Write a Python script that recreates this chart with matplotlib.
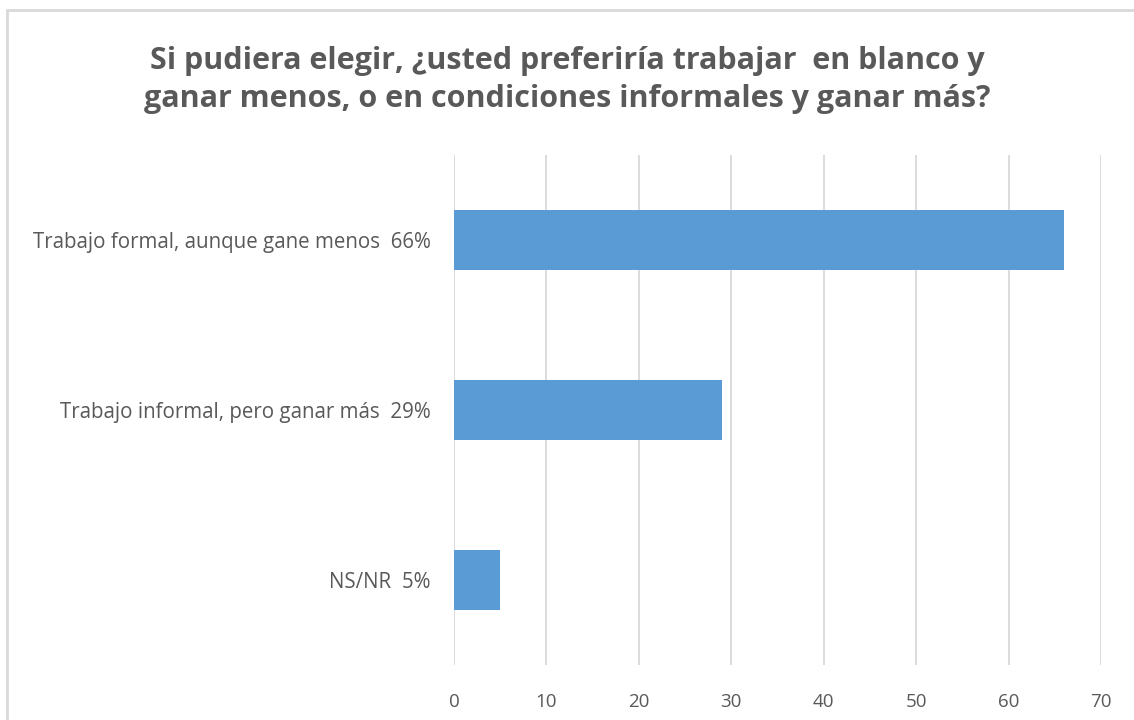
import matplotlib.pyplot as plt
from matplotlib.patches import Rectangle

categories = [
    "Trabajo formal, aunque gane menos  66%",
    "Trabajo informal, pero ganar más  29%",
    "NS/NR  5%",
]
values = [66, 29, 5]
x_ticks = [0, 10, 20, 30, 40, 50, 60, 70]

title = ("Si pudiera elegir, ¿usted preferiría trabajar  en blanco y\n"
         "ganar menos, o en condiciones informales y ganar más?")

text_color = "#595959"
grid_color = "#D9D9D9"
bar_color = "#5B9BD5"

plt.rcParams['font.family'] = ['Open Sans', 'DejaVu Sans']

fig = plt.figure(figsize=(11.34, 7.2), dpi=100)
ax = fig.add_axes([454 / 1134, 1 - 665 / 720, (1101 - 454) / 1134, (665 - 155) / 720])

y_pos = list(range(len(categories)))
ax.barh(y_pos, values, height=0.35, color=bar_color, zorder=3)
ax.set_ylim(len(categories) - 0.5, -0.5)
ax.set_xlim(0, 70)

ax.set_xticks(x_ticks)
ax.set_xticklabels([str(t) for t in x_ticks])
ax.set_yticks(y_pos)
ax.set_yticklabels(categories)
ax.tick_params(axis='x', length=0, pad=20, labelsize=13.5, labelcolor=text_color)
ax.tick_params(axis='y', length=0, pad=17, labelsize=14.8, labelcolor=text_color)

ax.grid(axis='x', color=grid_color, linewidth=1.3, zorder=0)
for s in ax.spines.values():
    s.set_visible(False)

fig.text(0.5, 1 - 80 / 720, title, ha='center', va='center', fontsize=22,
         fontweight='bold', color=text_color, linespacing=1.35)

# chart border (left and top edges visible)
fig.patches.append(Rectangle((7 / 1134, -0.05), 1.2, 1 - 10 / 720 + 0.05,
                             transform=fig.transFigure, fill=False,
                             edgecolor=grid_color, linewidth=2))

fig.savefig("out.png", dpi=100)
